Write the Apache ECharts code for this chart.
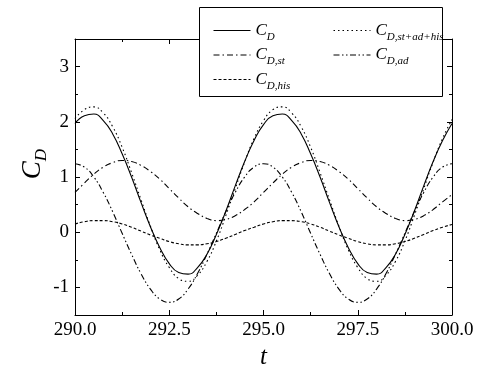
<!DOCTYPE html>
<html lang="en">
<head>
<meta charset="UTF-8">
<title>C_D vs t</title>
<style>
  html, body { margin: 0; padding: 0; background: #fff; }
  #main { width: 484px; height: 378px; }
</style>
</head>
<body>
<div id="main"></div>
<script src="https://cdn.jsdelivr.net/npm/echarts@6/dist/echarts.min.js"></script>
<script>
// sample times (every 0.25)
var tValues = [290, 290.25, 290.5, 290.75, 291, 291.25, 291.5, 291.75, 292, 292.25,
  292.5, 292.75, 293, 293.25, 293.5, 293.75, 294, 294.25, 294.5, 294.75,
  295, 295.25, 295.5, 295.75, 296, 296.25, 296.5, 296.75, 297, 297.25,
  297.5, 297.75, 298, 298.25, 298.5, 298.75, 299, 299.25, 299.5, 299.75, 300];

// values
var cd = [1.97, 2.11, 2.14, 2.02, 1.78, 1.42, 1.00, 0.54, 0.10, -0.28,
  -0.57, -0.73, -0.76, -0.64, -0.40, -0.04, 0.38, 0.84, 1.28, 1.66,
  1.95, 2.11, 2.14, 2.02, 1.78, 1.42, 1.00, 0.54, 0.10, -0.28,
  -0.57, -0.73, -0.76, -0.64, -0.40, -0.04, 0.38, 0.84, 1.28, 1.66, 1.97];
var cdSum = [2.06, 2.22, 2.27, 2.16, 1.91, 1.54, 1.08, 0.59, 0.11, -0.32,
  -0.64, -0.84, -0.89, -0.78, -0.53, -0.16, 0.30, 0.79, 1.27, 1.70,
  2.02, 2.22, 2.27, 2.16, 1.91, 1.54, 1.08, 0.59, 0.11, -0.32,
  -0.64, -0.84, -0.89, -0.78, -0.53, -0.16, 0.30, 0.79, 1.27, 1.70, 2.04];
var cdSt = [0.72, 0.89, 1.05, 1.18, 1.26, 1.30, 1.28, 1.21, 1.10, 0.96,
  0.79, 0.62, 0.46, 0.34, 0.25, 0.21, 0.23, 0.30, 0.41, 0.55,
  0.72, 0.89, 1.05, 1.18, 1.26, 1.30, 1.28, 1.21, 1.10, 0.96,
  0.79, 0.62, 0.46, 0.34, 0.25, 0.21, 0.23, 0.30, 0.41, 0.55, 0.68];
var cdAd = [1.24, 1.18, 1.00, 0.72, 0.37, -0.02, -0.40, -0.75, -1.03, -1.21,
  -1.27, -1.21, -1.03, -0.75, -0.40, -0.02, 0.37, 0.72, 1.00, 1.18,
  1.24, 1.18, 1.00, 0.72, 0.37, -0.02, -0.40, -0.75, -1.03, -1.21,
  -1.27, -1.21, -1.03, -0.75, -0.40, -0.02, 0.37, 0.72, 1.00, 1.18, 1.24];
var cdHis = [0.15, 0.19, 0.21, 0.21, 0.19, 0.15, 0.09, 0.02, -0.05, -0.11,
  -0.17, -0.21, -0.23, -0.23, -0.21, -0.17, -0.11, -0.04, 0.03, 0.09,
  0.15, 0.19, 0.21, 0.21, 0.19, 0.15, 0.09, 0.02, -0.05, -0.11,
  -0.17, -0.21, -0.23, -0.23, -0.21, -0.17, -0.11, -0.04, 0.03, 0.09, 0.14];

var yMajor = [-1, 0, 1, 2, 3];
var yMinor = [-1.5, -0.5, 0.5, 1.5, 2.5, 3.5];

var serif = 'Liberation Serif';
var labels = {
  CD: '{c|C}{s|D}',
  CDst: '{c|C}{s|D,st}',
  CDhis: '{c|C}{s|D,his}',
  CDsum: '{c|C}{s|D,st+ad+his}',
  CDad: '{c|C}{s|D,ad}'
};
var legendRich = {
  c: { fontFamily: serif, fontStyle: 'italic', fontSize: 17, color: '#000' },
  s: { fontFamily: serif, fontStyle: 'italic', fontSize: 11, color: '#000', padding: [13, 0, 0, 0] }
};

function pairs(vals) {
  return tValues.map(function (t, i) { return [t, vals[i]]; });
}

function xAx(pos, showLabel) {
  return {
    type: 'value', position: pos, min: 290, max: 300, interval: 2.5,
    axisLine: { onZero: false, lineStyle: { color: '#000', width: 1 } },
    axisTick: { inside: true, length: 5, lineStyle: { color: '#000' } },
    minorTick: { show: true, splitNumber: 2, length: 3, lineStyle: { color: '#000' } },
    splitLine: { show: false },
    axisLabel: {
      show: showLabel, margin: 6, color: '#000', fontFamily: serif, fontSize: 19,
      formatter: function (v) { return v.toFixed(1); }
    }
  };
}

function yAx(pos, ticks, len, showLine, showLabel) {
  return {
    type: 'value', position: pos, min: -1.5, max: 3.5, interval: 0.5,
    axisLine: { show: showLine, onZero: false, lineStyle: { color: '#000', width: 1 } },
    axisTick: { inside: true, length: len, customValues: ticks, lineStyle: { color: '#000' } },
    splitLine: { show: false },
    axisLabel: {
      show: showLabel, customValues: ticks, margin: 6, color: '#000',
      fontFamily: serif, fontSize: 19
    }
  };
}

var myChart = echarts.init(document.getElementById('main'));

var xBottom = xAx('bottom', true);
xBottom.name = 't';
xBottom.nameLocation = 'middle';
xBottom.nameGap = 29;
xBottom.nameTextStyle = { fontFamily: serif, fontStyle: 'italic', fontSize: 25, color: '#000' };

function lineSeries(name, vals, dash) {
  return {
    name: name, type: 'line', data: pairs(vals), symbol: 'none', smooth: true,
    xAxisIndex: 0, yAxisIndex: 0,
    lineStyle: { color: '#000', width: 1.1, type: dash },
    itemStyle: { color: '#000' }
  };
}

function legendBox(names, left) {
  return {
    data: names, orient: 'vertical', left: left, top: 22,
    padding: 0, itemGap: 4, itemWidth: 37, itemHeight: 13, z: 6,
    itemStyle: { opacity: 0 },
    lineStyle: { width: 1 },
    formatter: function (n) { return labels[n]; },
    textStyle: { rich: legendRich }
  };
}

var option = {
  animation: false,
  backgroundColor: '#fff',
  color: ['#000'],
  grid: { left: 75, right: 32, top: 39, bottom: 63, containLabel: false },
  xAxis: [xBottom, xAx('top', false)],
  yAxis: [
    yAx('left', yMajor, 5, true, true),
    yAx('left', yMinor, 3, false, false),
    yAx('right', yMajor, 5, true, false),
    yAx('right', yMinor, 3, false, false)
  ],
  legend: [
    legendBox(['CD', 'CDst', 'CDhis'], 213),
    legendBox(['CDsum', 'CDad'], 333)
  ],
  graphic: [
    {
      type: 'rect', z: 5,
      shape: { x: 199.5, y: 7.5, width: 243, height: 89 },
      style: { fill: '#fff', stroke: '#000', lineWidth: 1 }
    },
    {
      type: 'text', x: 33, y: 164, rotation: Math.PI / 2,
      style: {
        text: '{c|C}{s|D}', align: 'center', verticalAlign: 'middle',
        rich: {
          c: { fontFamily: serif, fontStyle: 'italic', fontSize: 27, color: '#000' },
          s: { fontFamily: serif, fontStyle: 'italic', fontSize: 17, color: '#000', padding: [18, 0, 0, 0] }
        }
      }
    }
  ],
  series: [
    lineSeries('CD', cd, 'solid'),
    lineSeries('CDst', cdSt, [6, 3, 1.5, 3]),
    lineSeries('CDhis', cdHis, [3, 2]),
    lineSeries('CDsum', cdSum, [1.5, 3]),
    lineSeries('CDad', cdAd, [6, 2.5, 1.5, 2.5, 1.5, 2.5])
  ]
};

myChart.setOption(option);
</script>
</body>
</html>
